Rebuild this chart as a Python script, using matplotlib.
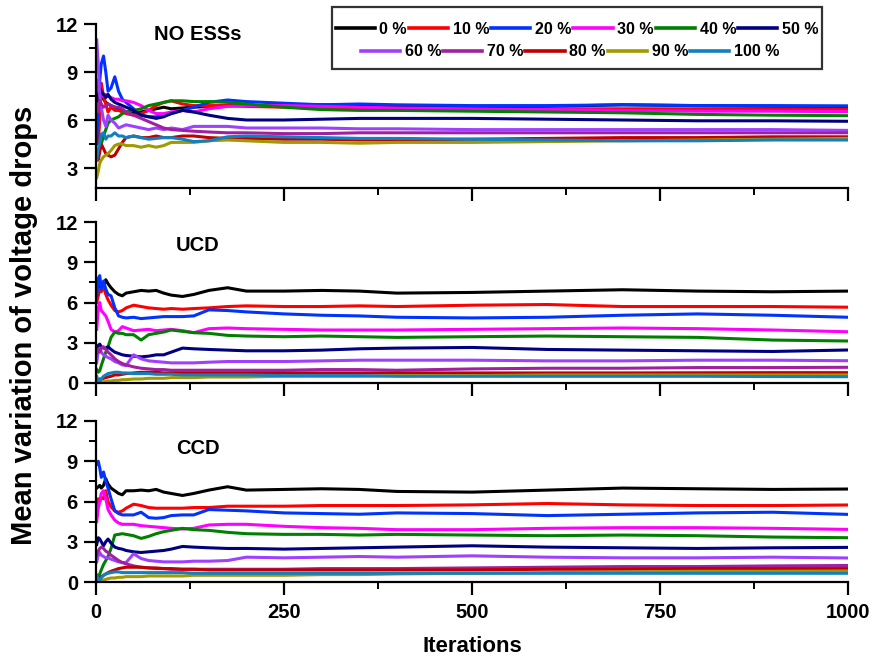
import matplotlib
matplotlib.use("Agg")
import matplotlib.pyplot as plt
from matplotlib.patches import Rectangle
from matplotlib.ticker import MultipleLocator
from matplotlib.lines import Line2D

plt.rcParams['font.family'] = ['Liberation Sans', 'DejaVu Sans']
plt.rcParams['font.weight'] = 'bold'

# ---------------- data ----------------
iterations = [1, 3, 5, 7, 10, 13, 16, 20, 25, 30, 35, 40, 50, 60, 70, 80, 90, 100,
              115, 130, 150, 175, 200, 250, 300, 350, 400, 500, 600, 700, 800, 900, 1000]

labels = ["0 %", "10 %", "20 %", "30 %", "40 %", "50 %",
          "60 %", "70 %", "80 %", "90 %", "100 %"]
colors = ["#000000", "#FF0000", "#0033FF", "#FF00FF", "#008000", "#000080",
          "#A040FF", "#A0209F", "#C00000", "#A09A00", "#1080C0"]
panel_titles = ["NO ESSs", "UCD", "CCD"]

# NO ESSs panel
noess_00 = [7.5, 7.2, 7.8, 7.5, 7.3, 7.1, 7.0, 6.9, 6.8, 6.7, 6.6, 6.5, 6.4, 6.5, 6.6, 6.7, 6.8, 6.7,
            6.75, 6.8, 6.85, 6.9, 6.9, 6.9, 6.95, 6.9, 6.85, 6.8, 6.85, 6.95, 6.9, 6.85, 6.85]
noess_10 = [8.5, 4.5, 6.0, 8.3, 7.5, 7.0, 6.5, 6.8, 6.6, 6.6, 6.5, 6.4, 6.3, 6.4, 6.6, 6.9, 7.1, 7.2,
            7.0, 6.9, 6.9, 6.9, 6.85, 6.8, 6.75, 6.7, 6.7, 6.65, 6.7, 6.7, 6.7, 6.7, 6.67]
noess_20 = [4.5, 7.0, 8.5, 9.5, 10.0, 9.0, 7.8, 8.0, 8.7, 7.8, 7.3, 7.1, 6.7, 6.3, 6.2, 6.2, 6.3, 6.4,
            6.6, 6.8, 7.1, 7.25, 7.15, 7.05, 6.95, 7.0, 6.95, 6.9, 6.9, 6.95, 6.9, 6.9, 6.88]
noess_30 = [7.0, 7.8, 8.0, 7.8, 7.5, 7.6, 7.5, 7.4, 7.3, 7.3, 7.2, 7.2, 7.1, 6.9, 6.6, 6.4, 6.4, 6.5,
            6.6, 6.5, 6.7, 6.85, 6.9, 6.9, 6.85, 6.8, 6.75, 6.7, 6.65, 6.6, 6.55, 6.55, 6.52]
noess_40 = [3.5, 4.0, 4.3, 4.5, 5.0, 5.4, 5.8, 6.0, 6.1, 6.2, 6.4, 6.5, 6.6, 6.7, 6.9, 7.0, 7.1, 7.2,
            7.2, 7.15, 7.15, 7.1, 7.0, 6.8, 6.65, 6.6, 6.6, 6.55, 6.5, 6.45, 6.35, 6.3, 6.27]
noess_50 = [7.0, 7.5, 8.0, 7.8, 7.6, 7.4, 7.6, 7.3, 7.1, 7.0, 6.9, 6.8, 6.6, 6.3, 6.2, 6.1, 6.2, 6.4,
            6.6, 6.5, 6.3, 6.1, 6.0, 6.0, 6.05, 6.1, 6.1, 6.1, 6.05, 6.0, 5.95, 5.95, 5.92]
noess_60 = [11.0, 9.5, 7.5, 6.8, 6.0, 5.6, 6.3, 6.0, 5.8, 5.5, 5.6, 5.7, 5.6, 5.5, 5.4, 5.5, 5.4, 5.5,
            5.4, 5.6, 5.6, 5.6, 5.5, 5.5, 5.5, 5.45, 5.45, 5.4, 5.4, 5.4, 5.4, 5.4, 5.35]
noess_70 = [7.0, 6.5, 7.2, 7.0, 6.8, 6.9, 7.0, 6.9, 6.8, 6.8, 6.7, 6.5, 6.3, 6.1, 5.9, 5.7, 5.5, 5.4,
            5.35, 5.3, 5.25, 5.2, 5.2, 5.15, 5.15, 5.2, 5.2, 5.2, 5.2, 5.2, 5.2, 5.2, 5.2]
noess_80 = [4.0, 3.5, 4.0, 4.5, 4.2, 3.9, 3.8, 3.7, 3.8, 4.2, 4.6, 4.9, 5.0, 4.9, 4.9, 5.0, 4.9, 4.9,
            5.0, 5.0, 4.9, 4.85, 4.85, 4.8, 4.8, 4.75, 4.75, 4.8, 4.85, 4.9, 4.9, 4.95, 4.95]
noess_90 = [2.4, 2.8, 3.3, 3.5, 3.7, 3.8, 3.9, 4.1, 4.4, 4.5, 4.5, 4.4, 4.4, 4.3, 4.4, 4.3, 4.4, 4.6,
            4.6, 4.6, 4.7, 4.75, 4.7, 4.6, 4.6, 4.55, 4.6, 4.6, 4.65, 4.7, 4.75, 4.8, 4.85]
noess_100 = [3.5, 4.2, 4.5, 5.1, 5.2, 4.8, 5.0, 5.0, 5.2, 5.0, 5.0, 4.9, 5.0, 4.9, 4.8, 4.85, 4.9, 4.9,
             4.8, 4.65, 4.7, 4.95, 5.0, 4.95, 4.9, 4.85, 4.85, 4.8, 4.75, 4.7, 4.7, 4.75, 4.75]

# UCD panel
ucd_00 = [7.0, 7.2, 7.3, 7.0, 7.2, 7.7, 7.4, 7.1, 6.8, 6.6, 6.5, 6.7, 6.8, 6.9, 6.85, 6.9, 6.7, 6.55,
          6.45, 6.6, 6.9, 7.1, 6.85, 6.85, 6.9, 6.85, 6.7, 6.75, 6.85, 6.95, 6.85, 6.8, 6.85]
ucd_10 = [6.0, 6.5, 7.0, 6.8, 7.2, 6.6, 6.2, 5.8, 5.4, 5.3, 5.4, 5.6, 5.8, 5.7, 5.6, 5.55, 5.5, 5.55,
          5.5, 5.55, 5.6, 5.7, 5.75, 5.7, 5.7, 5.75, 5.7, 5.8, 5.85, 5.7, 5.7, 5.7, 5.65]
ucd_20 = [6.5, 7.8, 8.0, 7.0, 7.6, 7.0, 6.6, 6.5, 5.6, 5.0, 4.9, 4.85, 4.9, 4.8, 4.85, 4.9, 4.95, 4.95,
          4.95, 5.0, 5.45, 5.4, 5.3, 5.15, 5.05, 5.0, 4.9, 4.85, 4.9, 5.05, 5.15, 5.05, 4.9]
ucd_30 = [4.0, 5.6, 6.0, 5.4, 5.2, 5.0, 4.6, 4.0, 3.8, 3.9, 4.2, 4.1, 3.9, 3.95, 4.0, 3.9, 3.95, 4.0,
          3.9, 3.75, 4.05, 4.1, 4.05, 4.0, 3.95, 3.95, 3.95, 4.0, 4.05, 4.1, 4.05, 3.95, 3.82]
ucd_40 = [1.0, 0.8, 0.9, 1.3, 1.8, 2.3, 2.7, 3.4, 3.8, 3.7, 3.7, 3.6, 3.6, 3.2, 3.6, 3.7, 3.8, 3.95,
          3.85, 3.75, 3.7, 3.55, 3.5, 3.45, 3.5, 3.45, 3.4, 3.45, 3.5, 3.45, 3.4, 3.2, 3.13]
ucd_50 = [2.5, 2.8, 2.9, 2.7, 2.6, 2.6, 2.7, 2.5, 2.3, 2.2, 2.1, 2.05, 2.0, 1.95, 2.0, 2.1, 2.1, 2.3,
          2.6, 2.55, 2.5, 2.45, 2.4, 2.4, 2.45, 2.55, 2.6, 2.65, 2.5, 2.45, 2.4, 2.35, 2.46]
ucd_60 = [1.5, 2.4, 2.6, 2.3, 2.1, 2.0, 1.9, 1.8, 1.6, 1.5, 1.35, 1.3, 2.1, 1.8, 1.65, 1.6, 1.55, 1.5,
          1.5, 1.5, 1.55, 1.6, 1.6, 1.6, 1.65, 1.7, 1.7, 1.7, 1.65, 1.65, 1.7, 1.7, 1.66]
ucd_70 = [2.2, 2.5, 2.3, 2.6, 2.7, 2.5, 2.3, 2.1, 1.8, 1.6, 1.45, 1.35, 1.2, 1.1, 1.05, 1.0, 1.0, 0.95,
          0.95, 0.95, 0.95, 0.95, 0.95, 0.95, 1.0, 1.0, 0.95, 1.05, 1.1, 1.1, 1.15, 1.15, 1.17]
ucd_80 = [0.1, 0.2, 0.3, 0.3, 0.35, 0.4, 0.45, 0.5, 0.6, 0.6, 0.65, 0.7, 0.75, 0.8, 0.8, 0.8, 0.75, 0.75,
          0.75, 0.75, 0.75, 0.75, 0.75, 0.75, 0.75, 0.75, 0.75, 0.75, 0.75, 0.75, 0.76, 0.77, 0.77]
ucd_90 = [0.0, 0.02, 0.05, 0.05, 0.1, 0.1, 0.15, 0.15, 0.2, 0.2, 0.25, 0.25, 0.3, 0.3, 0.35, 0.35, 0.35, 0.4,
          0.4, 0.4, 0.45, 0.45, 0.45, 0.5, 0.5, 0.5, 0.55, 0.55, 0.6, 0.6, 0.6, 0.6, 0.6]
ucd_100 = [0.5, 0.15, 0.1, 0.3, 0.5, 0.6, 0.7, 0.75, 0.8, 0.8, 0.75, 0.75, 0.7, 0.7, 0.7, 0.65, 0.65, 0.65,
           0.6, 0.6, 0.6, 0.6, 0.6, 0.55, 0.55, 0.55, 0.5, 0.5, 0.5, 0.5, 0.5, 0.48, 0.47]

# CCD panel
ccd_00 = [7.0, 7.1, 7.2, 7.0, 7.2, 7.7, 7.3, 7.0, 6.8, 6.6, 6.5, 6.8, 6.8, 6.85, 6.8, 6.9, 6.7, 6.6,
          6.45, 6.6, 6.85, 7.1, 6.85, 6.9, 6.95, 6.9, 6.75, 6.7, 6.85, 7.0, 6.95, 6.9, 6.93]
ccd_10 = [5.8, 6.2, 6.0, 6.3, 6.2, 6.8, 6.0, 5.6, 5.3, 5.2, 5.3, 5.5, 5.8, 5.7, 5.55, 5.5, 5.5, 5.5,
          5.5, 5.55, 5.55, 5.65, 5.65, 5.65, 5.7, 5.7, 5.7, 5.75, 5.85, 5.75, 5.7, 5.7, 5.74]
ccd_20 = [8.8, 9.0, 8.5, 7.8, 8.2, 7.5, 7.0, 6.2, 5.3, 5.1, 5.0, 5.0, 5.0, 5.2, 4.8, 4.75, 4.8, 4.95,
          5.0, 5.0, 5.4, 5.35, 5.3, 5.15, 5.1, 5.05, 5.15, 5.1, 4.95, 5.05, 5.15, 5.2, 5.04]
ccd_30 = [4.5, 5.5, 6.0, 6.6, 6.8, 6.2, 5.4, 5.0, 4.6, 4.4, 4.3, 4.3, 4.3, 4.2, 4.15, 4.1, 4.05, 4.0,
          3.95, 4.0, 4.25, 4.3, 4.3, 4.15, 4.05, 4.0, 3.9, 3.9, 4.0, 4.05, 4.05, 4.0, 3.92]
ccd_40 = [0.5, 0.4, 0.6, 0.9, 1.3, 1.6, 1.9, 2.5, 3.5, 3.55, 3.6, 3.55, 3.45, 3.25, 3.4, 3.6, 3.75, 3.85,
          4.0, 3.9, 3.85, 3.7, 3.6, 3.55, 3.55, 3.5, 3.55, 3.5, 3.45, 3.5, 3.45, 3.35, 3.3]
ccd_50 = [2.8, 3.3, 3.2, 3.0, 2.7, 3.0, 3.2, 2.9, 2.6, 2.5, 2.45, 2.35, 2.25, 2.2, 2.25, 2.3, 2.35, 2.45,
          2.65, 2.6, 2.55, 2.5, 2.5, 2.45, 2.5, 2.55, 2.6, 2.7, 2.6, 2.55, 2.5, 2.55, 2.58]
ccd_60 = [1.5, 2.0, 2.2, 2.0, 1.9, 1.8, 1.8, 1.7, 1.6, 1.5, 1.45, 1.45, 2.1, 1.75, 1.6, 1.55, 1.5, 1.5,
          1.5, 1.55, 1.55, 1.6, 1.85, 1.8, 1.85, 1.9, 1.85, 1.95, 1.85, 1.8, 1.8, 1.85, 1.79]
ccd_70 = [2.0, 2.3, 2.5, 2.6, 2.5, 2.3, 2.2, 2.0, 1.8, 1.6, 1.45, 1.35, 1.2, 1.1, 1.05, 1.0, 1.0, 0.95,
          0.95, 0.95, 0.95, 0.95, 0.95, 0.95, 1.0, 1.0, 1.0, 1.05, 1.1, 1.15, 1.15, 1.2, 1.23]
ccd_80 = [0.1, 0.2, 0.3, 0.4, 0.5, 0.6, 0.7, 0.8, 0.9, 1.0, 1.05, 1.1, 1.1, 1.1, 1.05, 1.05, 1.0, 1.0,
          0.95, 0.95, 0.9, 0.9, 0.9, 0.9, 0.9, 0.9, 0.9, 0.9, 0.95, 0.95, 1.0, 1.0, 1.0]
ccd_90 = [0.0, 0.05, 0.1, 0.1, 0.15, 0.2, 0.25, 0.3, 0.3, 0.35, 0.35, 0.4, 0.4, 0.4, 0.45, 0.45, 0.45, 0.45,
          0.45, 0.5, 0.5, 0.5, 0.5, 0.5, 0.55, 0.55, 0.6, 0.65, 0.7, 0.75, 0.8, 0.8, 0.82]
ccd_100 = [0.5, 0.2, 0.1, 0.3, 0.5, 0.6, 0.65, 0.7, 0.75, 0.75, 0.7, 0.7, 0.7, 0.7, 0.7, 0.7, 0.7, 0.7,
           0.7, 0.65, 0.65, 0.65, 0.65, 0.65, 0.65, 0.65, 0.65, 0.65, 0.65, 0.65, 0.65, 0.65, 0.65]

noess_series = [noess_00, noess_10, noess_20, noess_30, noess_40, noess_50,
                noess_60, noess_70, noess_80, noess_90, noess_100]
ucd_series = [ucd_00, ucd_10, ucd_20, ucd_30, ucd_40, ucd_50,
              ucd_60, ucd_70, ucd_80, ucd_90, ucd_100]
ccd_series = [ccd_00, ccd_10, ccd_20, ccd_30, ccd_40, ccd_50,
              ccd_60, ccd_70, ccd_80, ccd_90, ccd_100]
panels = [noess_series, ucd_series, ccd_series]
ylims = [(1.75, 12), (0, 12), (0, 12)]

# ---------------- figure ----------------
W, H = 872, 659
fig = plt.figure(figsize=(W / 100, H / 100), dpi=100)

def fx(px):
    return px / W

def fy(py):
    return 1 - py / H

# (top_px, bottom_px) of each panel
boxes = [(24, 188), (222, 383), (421, 582)]
title_y = [0.939, 0.851, 0.832]
left, right = 96, 848

axes = []
for i, (t, b) in enumerate(boxes):
    ax = fig.add_axes([fx(left), fy(b), fx(right - left), (b - t) / H])
    for ser, c in zip(panels[i], colors):
        ax.plot(iterations, ser, color=c, lw=2.2, solid_joinstyle='round')
    ax.set_xlim(0, 1000)
    ax.set_ylim(*ylims[i])
    ax.spines['top'].set_visible(False)
    ax.spines['right'].set_visible(False)
    for s in ('left', 'bottom'):
        ax.spines[s].set_linewidth(1.6)
    ax.xaxis.set_major_locator(MultipleLocator(250))
    ax.xaxis.set_minor_locator(MultipleLocator(125))
    ax.yaxis.set_major_locator(MultipleLocator(3))
    ax.yaxis.set_minor_locator(MultipleLocator(1.5))
    ax.tick_params(which='major', direction='out', length=9, width=1.6,
                   labelsize=14.5, pad=4)
    ax.tick_params(which='minor', direction='out', length=5, width=1.4)
    ax.tick_params(axis='x', which='major', pad=6)
    if i < 2:
        ax.tick_params(axis='x', labelbottom=False)
    for lab in ax.get_xticklabels() + ax.get_yticklabels():
        lab.set_fontweight('bold')
    ax.text(0.135, title_y[i], panel_titles[i], transform=ax.transAxes,
            ha='center', va='center', fontsize=14.5, fontweight='bold')
    axes.append(ax)

fig.text(fx(24), fy(325), "Mean variation of voltage drops", rotation=90,
         ha='center', va='center', fontsize=21, fontweight='bold')
fig.text(fx(472), fy(647), "Iterations", ha='center', va='center',
         fontsize=16, fontweight='bold')

# legend frame
frame = Rectangle((fx(332), fy(69)), fx(822 - 332), (69 - 7) / H,
                  transform=fig.transFigure, facecolor='white',
                  edgecolor='#333333', linewidth=1.6, zorder=4)
fig.patches.append(frame)

handles = [Line2D([], [], color=c, lw=2.6) for c in colors]
leg_kw = dict(frameon=False, handlelength=2.45, handletextpad=0.3,
              columnspacing=0.12, borderpad=0, borderaxespad=0,
              prop={'weight': 'bold', 'size': 11.5})
leg1 = fig.legend(handles[:6], labels[:6], ncol=6, loc='center',
                  bbox_to_anchor=(fx(577), fy(29)), **leg_kw)
leg2 = fig.legend(handles[6:], labels[6:], ncol=5, loc='center',
                  bbox_to_anchor=(fx(570), fy(52)), **leg_kw)
leg1.set_zorder(5)
leg2.set_zorder(5)

fig.savefig("out.png", dpi=100)
